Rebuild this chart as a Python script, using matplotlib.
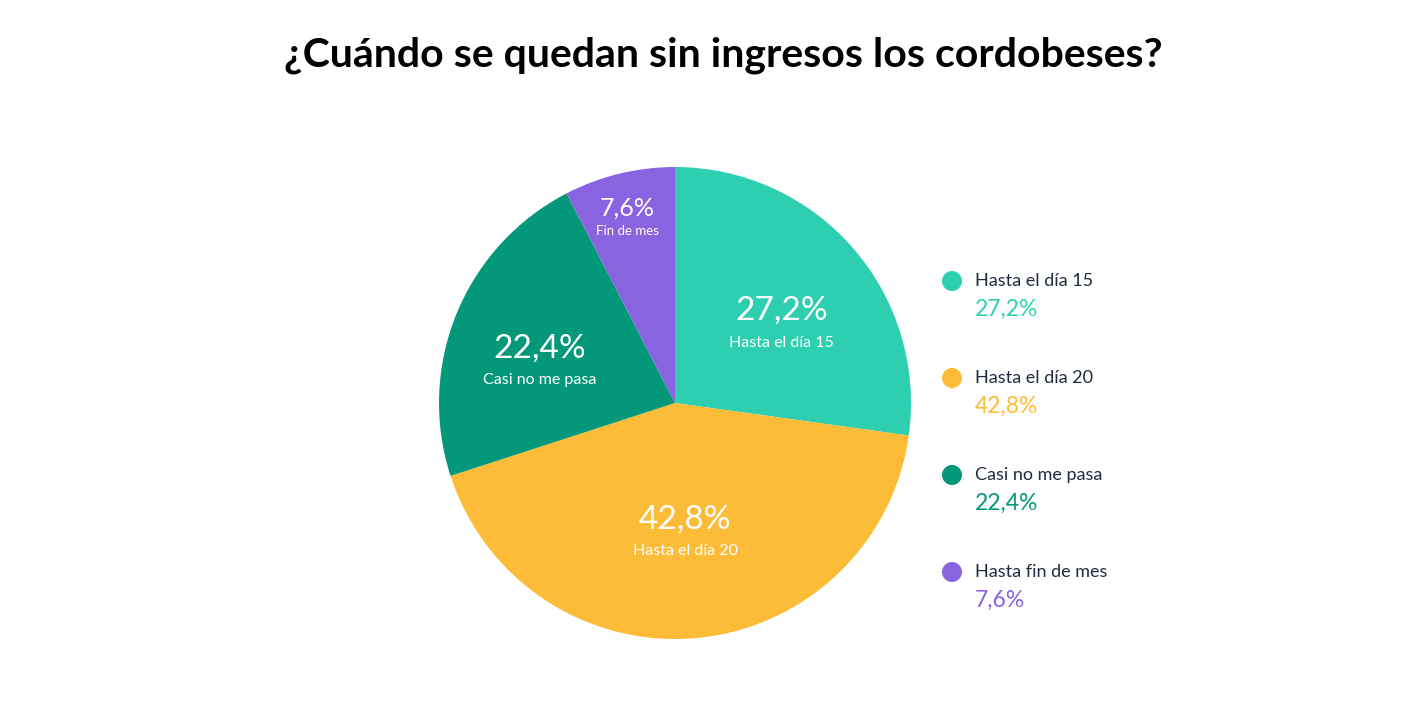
import matplotlib.pyplot as plt
from matplotlib.patches import Circle
import numpy as np

OUT_PATH = 'out.png'
W, H = 1416, 713

labels = ['Hasta el día 15', 'Hasta el día 20', 'Casi no me pasa', 'Hasta fin de mes']
inner_labels = ['Hasta el día 15', 'Hasta el día 20', 'Casi no me pasa', 'Fin de mes']
values = [27.2, 42.8, 22.4, 7.6]
colors = ['#2ecfb0', '#fdbc37', '#04987a', '#8a63e0']
label_radius = [0.6, 0.49, 0.62, 0.86]
TEXT_DARK = '#1f2b40'

plt.rcParams['font.family'] = ['Lato', 'DejaVu Sans']


def fx(px):
    return px / W


def fy(py):
    return 1 - py / H


def pct(v):
    return f"{v:.1f}".replace('.', ',') + '%'


fig = plt.figure(figsize=(W / 100, H / 100), dpi=100)
fig.patch.set_facecolor('white')

# overlay axes in pixel units for legend dots
ov = fig.add_axes([0, 0, 1, 1])
ov.set_xlim(0, W)
ov.set_ylim(H, 0)
ov.axis('off')

# pie axes, centre (675, 403) px, radius 236 px
cx, cy, r = 675, 403, 236
ax = fig.add_axes([fx(cx - r), fy(cy + r), 2 * r / W, 2 * r / H])
wedges, _ = ax.pie(values, colors=colors, startangle=90, counterclock=False,
                   radius=1, wedgeprops=dict(linewidth=0))
ax.set_xlim(-1, 1)
ax.set_ylim(-1, 1)
ax.set_aspect('equal')
ax.axis('off')

# labels inside the slices
start = 90
for i, v in enumerate(values):
    mid = np.deg2rad(start - v * 3.6 / 2)
    start -= v * 3.6
    rr = label_radius[i]
    x, y = rr * np.cos(mid), rr * np.sin(mid)
    small = v < 10
    ax.text(x, y - 0.042, pct(v), ha='center', va='baseline', color='white',
            fontsize=18 if small else 24)
    ax.text(x, y - (0.125 if small else 0.157), inner_labels[i], ha='center',
            va='baseline', color='white', fontsize=9.5 if small else 11.5)

# legend
leg_y = [281, 378, 475, 572]
for i, lab in enumerate(labels):
    y = leg_y[i]
    ov.add_patch(Circle((952, y), 10, facecolor=colors[i], edgecolor='none'))
    fig.text(fx(975), fy(y), lab, ha='left', va='center', color=TEXT_DARK, fontsize=13)
    fig.text(fx(975), fy(y + 28), pct(values[i]), ha='left', va='center',
             color=colors[i], fontsize=16.5)

fig.text(fx(723), fy(55), '¿Cuándo se quedan sin ingresos los cordobeses?',
         ha='center', va='center', color='black', fontsize=29.5, fontweight='bold')

fig.savefig(OUT_PATH, dpi=100, facecolor='white')
